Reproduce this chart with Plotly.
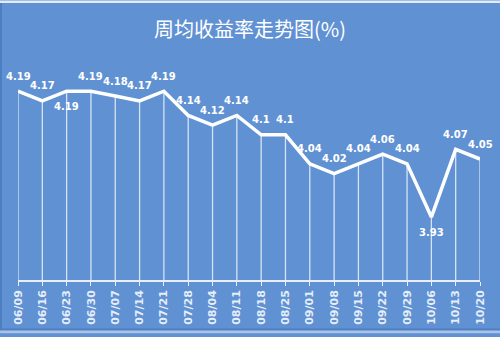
import plotly.graph_objects as go

dates = ["06/09","06/16","06/23","06/30","07/07","07/14","07/21","07/28","08/04","08/11",
         "08/18","08/25","09/01","09/08","09/15","09/22","09/29","10/06","10/13","10/20"]
values = [4.19,4.17,4.19,4.19,4.18,4.17,4.19,4.14,4.12,4.14,
          4.10,4.10,4.04,4.02,4.04,4.06,4.04,3.93,4.07,4.05]
labels = ["4.19","4.17","4.19","4.19","4.18","4.17","4.19","4.14","4.12","4.14",
          "4.1","4.1","4.04","4.02","4.04","4.06","4.04","3.93","4.07","4.05"]
below = [False,False,True,False,False,False,False,False,False,False,
         False,False,False,False,False,False,False,True,False,False]

YMIN = 3.8
x = list(range(len(dates)))

W, H = 500, 337
ML, MR, MT, MB = 18, 20, 38, 54
PW, PH = W - ML - MR, H - MT - MB

def px(v):
    return (v - ML) / PW

def py(v):
    return (H - MB - v) / PH

fig = go.Figure()
fig.add_trace(go.Scatter(
    x=x, y=values, mode="lines",
    line=dict(color="white", width=3.5),
    error_y=dict(type="data", symmetric=False, array=[0]*len(values),
                 arrayminus=[v - YMIN for v in values], width=0,
                 color="rgba(255,255,255,0.75)", thickness=1.3),
    cliponaxis=False, hoverinfo="skip", showlegend=False,
))

for xi, v, t, b in zip(x, values, labels, below):
    fig.add_annotation(x=xi, y=v, text=t, showarrow=False,
                       yshift=(-15 if b else 15),
                       font=dict(family="DejaVu Sans", size=10, color="white", weight="bold"))

fig.update_layout(
    width=W, height=H,
    margin=dict(l=ML, r=MR, t=MT, b=MB),
    paper_bgcolor="#5f91d3", plot_bgcolor="#5f91d3",
    title=dict(text="周均收益率走势图(%)", x=0.5, xanchor="center", y=0.91, yanchor="middle",
               font=dict(family="Noto Sans CJK SC", size=20, color="white")),
    xaxis=dict(tickmode="array", tickvals=x, ticktext=dates, tickangle=-90,
               range=[0, 19], showgrid=False, zeroline=False,
               showline=True, linecolor="rgba(255,255,255,0.85)", linewidth=1.5,
               ticks="outside", tickcolor="rgba(255,255,255,0.85)", ticklen=4,
               tickfont=dict(family="DejaVu Sans", size=11, color="#e6eef9", weight="bold")),
    yaxis=dict(range=[YMIN, 4.3], visible=False, showgrid=False, zeroline=False),
)

# frame edges
fig.add_shape(type="rect", xref="paper", yref="paper", x0=px(0), x1=px(W), y0=py(2.5), y1=py(0),
              line=dict(width=0), fillcolor="#e4ecf7", layer="above")
fig.add_shape(type="rect", xref="paper", yref="paper", x0=px(0), x1=px(2), y0=py(H), y1=py(2.5),
              line=dict(width=0), fillcolor="#4d7ec2", layer="above")
fig.add_shape(type="rect", xref="paper", yref="paper", x0=px(0), x1=px(W), y0=py(334), y1=py(332),
              line=dict(width=0), fillcolor="#4d7ec2", layer="above")
fig.add_shape(type="rect", xref="paper", yref="paper", x0=px(0), x1=px(W), y0=py(H), y1=py(334),
              line=dict(width=0), fillcolor="#a9c2e6", layer="above")

fig.write_html("out.html")
